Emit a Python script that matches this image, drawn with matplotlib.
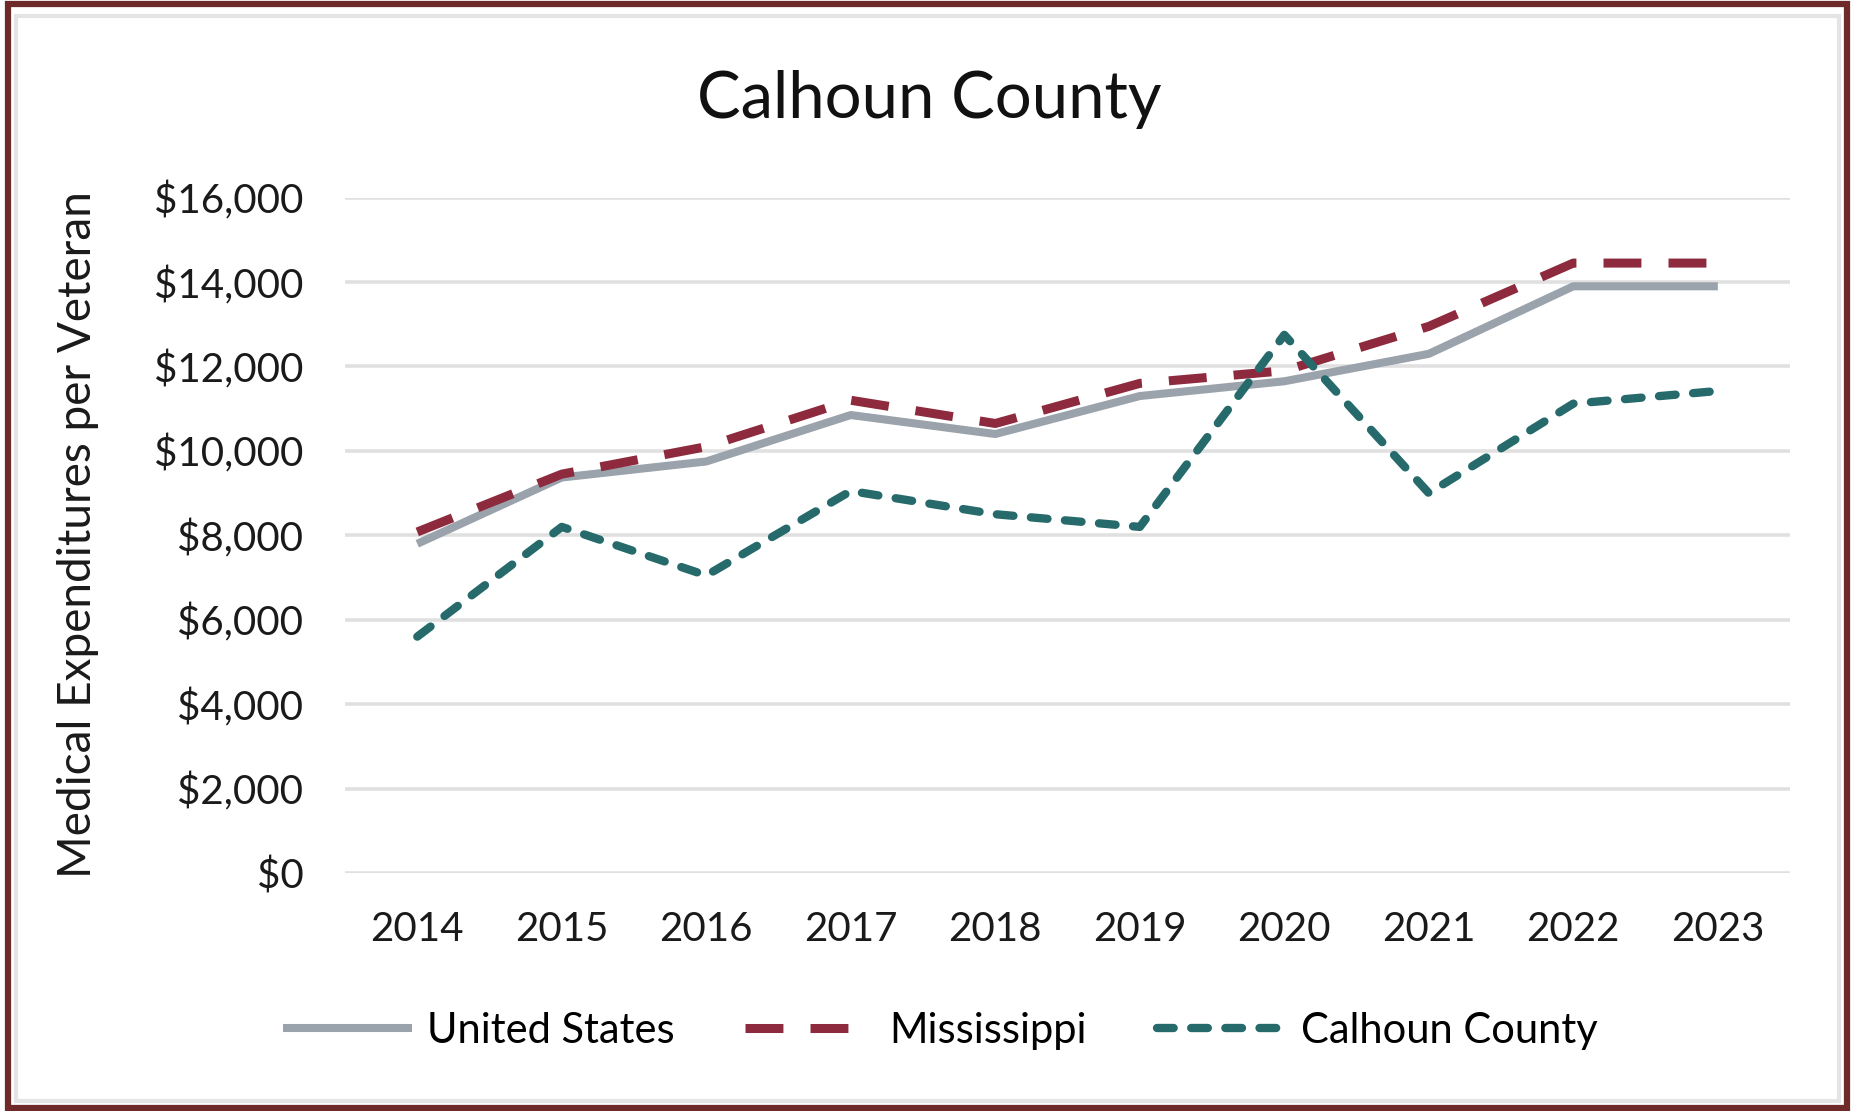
import matplotlib
matplotlib.use("Agg")
import matplotlib.pyplot as plt
from matplotlib.patches import Rectangle
from matplotlib.ticker import FuncFormatter

plt.rcParams['font.family'] = ['Lato', 'DejaVu Sans']

years = ["2014", "2015", "2016", "2017", "2018", "2019", "2020", "2021", "2022", "2023"]
united_states = [7800, 9370, 9750, 10850, 10400, 11300, 11650, 12300, 13900, 13900]
mississippi = [8080, 9450, 10100, 11200, 10650, 11600, 11900, 12950, 14450, 14450]
calhoun = [5600, 8200, 7050, 9050, 8500, 8200, 12750, 9000, 11120, 11420]
yticks = [0, 2000, 4000, 6000, 8000, 10000, 12000, 14000, 16000]

fig = plt.figure(figsize=(18.55, 11.11), dpi=100)
ax = fig.add_axes([0.186, 0.2142, 0.779, 0.6079])

x = range(len(years))
ax.plot(x, united_states, color="#9aa2ab", lw=5.8, solid_joinstyle="round",
        solid_capstyle="butt", label="United States")
ax.plot(x, mississippi, color="#8e2a3d", lw=6.5, linestyle=(0, (4.2, 3)),
        dash_capstyle="butt", label="Mississippi")
ax.plot(x, calhoun, color="#276a6c", lw=6.0, linestyle=(0, (2.0, 2.1)),
        dash_capstyle="round", label="Calhoun County")

ax.set_xlim(-0.5, len(years) - 0.5)
ax.set_ylim(0, 16000)
ax.set_xticks(list(x))
ax.set_xticklabels(years)
ax.set_yticks(yticks)
ax.yaxis.set_major_formatter(FuncFormatter(lambda v, p: "${:,.0f}".format(v)))
ax.tick_params(axis="both", length=0, labelsize=29, colors="#1a1a1a")
ax.tick_params(axis="y", pad=30)
ax.tick_params(axis="x", pad=27)
ax.grid(axis="y", color="#e0e0e0", lw=2.6)
ax.set_axisbelow(True)
for s in ax.spines.values():
    s.set_visible(False)
for ln in ax.lines:
    ln.set_clip_on(False)

fig.text(0.042, 0.519, "Medical Expenditures per Veteran", rotation=90,
         ha="center", va="center", fontsize=33, color="#1a1a1a")
fig.text(0.5008, 0.8938, "Calhoun County", ha="center", va="baseline",
         fontsize=47, color="#111111")

fig.legend(loc="center", bbox_to_anchor=(0.507, 0.072), ncol=3, frameon=False,
           fontsize=30, handlelength=3.1, handletextpad=0.35, columnspacing=1.7)

# borders
fig.patches.append(Rectangle((0.0045, 0.003), 0.991, 0.993, transform=fig.transFigure,
                             fill=False, edgecolor="#6e2a2a", lw=4.5))
fig.patches.append(Rectangle((0.0085, 0.009), 0.983, 0.977, transform=fig.transFigure,
                             fill=False, edgecolor="#e4e4e4", lw=3))

fig.savefig("out.png", dpi=100, facecolor="white")
